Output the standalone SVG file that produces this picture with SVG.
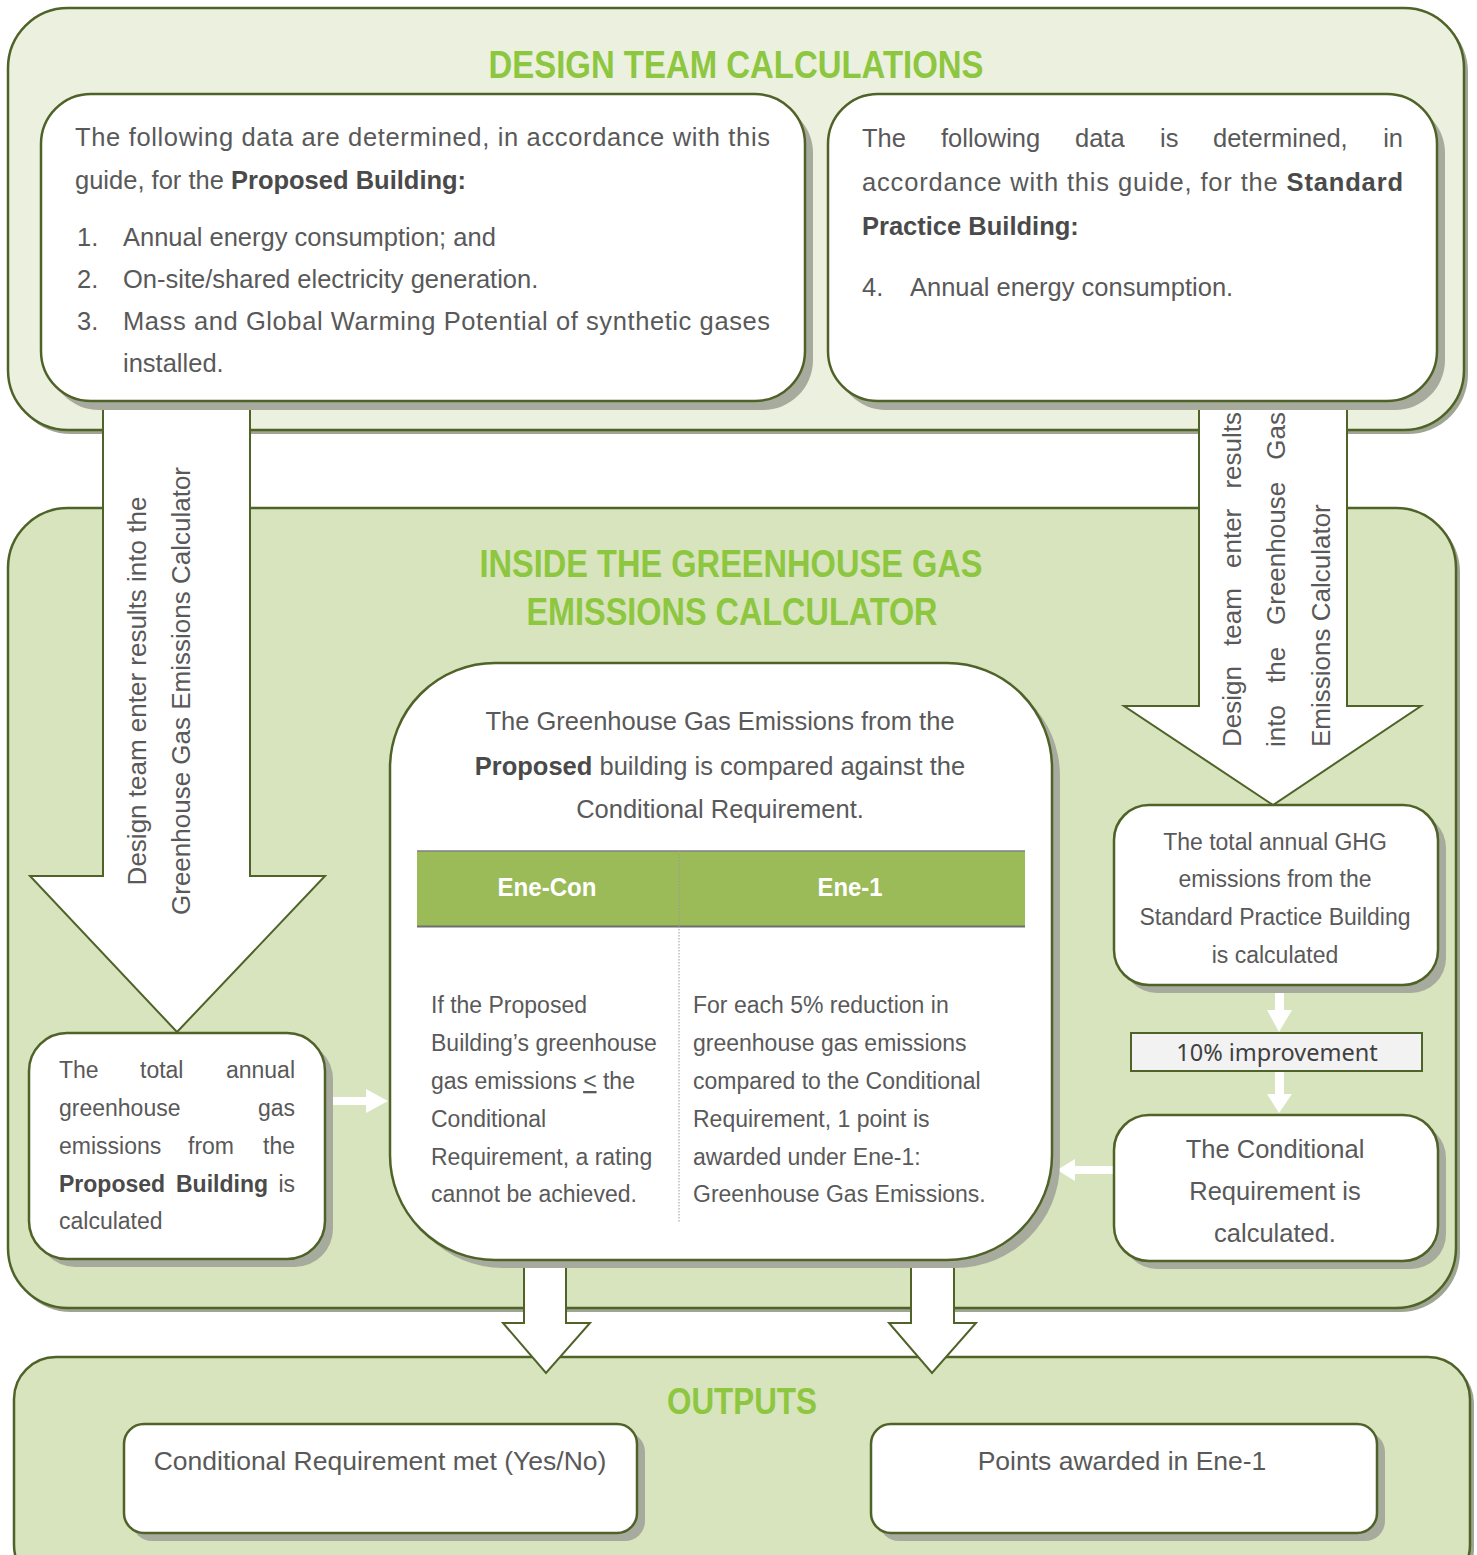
<svg xmlns="http://www.w3.org/2000/svg" width="1477" height="1555" viewBox="0 0 1477 1555">
<style>
.panel{stroke:#4f6228;stroke-width:2.5}
.pshadow{fill:#9fa593}
.box{fill:#ffffff;stroke:#4f6228;stroke-width:2.5}
.bshadow{fill:#a7ab9d}
.big{fill:#ffffff;stroke:#4f6228;stroke-width:2}
.wa{fill:#ffffff;stroke:none}
.t{font-family:"Liberation Sans",Arial,sans-serif;fill:#595959}
.b{font-weight:bold;fill:#4a4a4a}
.title{font-family:"Liberation Sans Narrow","Liberation Sans",Arial,sans-serif;font-weight:bold;fill:#8dc63f}
.s26{font-size:25.5px}
.s23{font-size:23px}
.rot{font-size:26px}
</style>

<!-- Panels -->
<g id="panel-design-team">
  <rect class="pshadow" x="11" y="12" width="1457" height="422" rx="60"/>
  <rect class="panel" x="8" y="8" width="1456" height="422" rx="60" fill="#ebf1de"/>
  <text class="title" x="736" y="78" font-size="38" text-anchor="middle" textLength="495" lengthAdjust="spacingAndGlyphs">DESIGN TEAM CALCULATIONS</text>
</g>
<g id="panel-calculator">
  <rect class="pshadow" x="11" y="512" width="1449" height="800" rx="60"/>
  <rect class="panel" x="8" y="508" width="1448" height="800" rx="60" fill="#d7e4bd"/>
  <text class="title" x="731" y="577" font-size="38" text-anchor="middle" textLength="503" lengthAdjust="spacingAndGlyphs">INSIDE THE GREENHOUSE GAS</text>
  <text class="title" x="732" y="625" font-size="38" text-anchor="middle" textLength="411" lengthAdjust="spacingAndGlyphs">EMISSIONS CALCULATOR</text>
</g>
<g id="panel-outputs">
  <rect class="pshadow" x="17" y="1361" width="1457" height="230" rx="42"/>
  <rect class="panel" x="14" y="1357" width="1456" height="230" rx="42" fill="#d7e4bd"/>
  <text class="title" x="742" y="1414" font-size="36" text-anchor="middle" textLength="150" lengthAdjust="spacingAndGlyphs">OUTPUTS</text>
</g>

<!-- Connectors -->
<g id="connectors">
  <polygon class="big" points="524,1258 566,1258 566,1323 590,1323 546,1373 503,1323 524,1323"/>
  <polygon class="big" points="911,1258 954,1258 954,1323 976,1323 932,1373 889,1323 911,1323"/>

  <polygon class="big" points="103,398 250,398 250,876 325,876 177,1032 30,876 103,876"/>
  <text class="t rot" transform="translate(146,691) rotate(-90)" text-anchor="middle">Design team enter results into the</text>
  <text class="t rot" transform="translate(190,691) rotate(-90)" text-anchor="middle">Greenhouse Gas Emissions Calculator</text>

  <polygon class="big" points="1199,398 1347,398 1347,706 1421,706 1273,805 1124,706 1199,706"/>
  <g class="t rot" transform="translate(1241,747) rotate(-90)">
    <text x="0" y="0">Design</text>
    <text x="101" y="0">team</text>
    <text x="179" y="0">enter</text>
    <text x="335" y="0" text-anchor="end">results</text>
  </g>
  <g class="t rot" transform="translate(1285,747) rotate(-90)">
    <text x="0" y="0">into</text>
    <text x="64" y="0">the</text>
    <text x="122" y="0">Greenhouse</text>
    <text x="335" y="0" text-anchor="end">Gas</text>
  </g>
  <text class="t rot" transform="translate(1330,747) rotate(-90)">Emissions Calculator</text>

  <!-- small white arrows -->
  <rect class="wa" x="325" y="1097" width="42" height="8"/>
  <polygon class="wa" points="366,1089 388,1101 366,1113"/>
  <rect class="wa" x="1073" y="1166" width="40" height="8"/>
  <polygon class="wa" points="1075,1159 1057,1170 1075,1181"/>
  <rect class="wa" x="1275" y="985" width="9" height="26"/>
  <polygon class="wa" points="1267,1010 1292,1010 1279,1032"/>
  <rect class="wa" x="1275" y="1071" width="9" height="24"/>
  <polygon class="wa" points="1267,1094 1292,1094 1279,1113"/>
</g>

<!-- Nodes -->
<g id="node-proposed-data">
  <rect class="bshadow" x="49" y="103" width="764" height="307" rx="50"/>
  <rect class="box" x="41" y="94" width="764" height="307" rx="50"/>
  <text class="t s26" x="75" y="146" textLength="695" lengthAdjust="spacing">The following data are determined, in accordance with this</text>
  <text class="t s26" x="75" y="189">guide, for the <tspan class="b">Proposed Building:</tspan></text>
  <text class="t s26" x="77" y="246">1.</text>
  <text class="t s26" x="123" y="246">Annual energy consumption; and</text>
  <text class="t s26" x="77" y="288">2.</text>
  <text class="t s26" x="123" y="288">On-site/shared electricity generation.</text>
  <text class="t s26" x="77" y="330">3.</text>
  <text class="t s26" x="123" y="330" textLength="647" lengthAdjust="spacing">Mass and Global Warming Potential of synthetic gases</text>
  <text class="t s26" x="123" y="372">installed.</text>
</g>

<g id="node-standard-data">
  <rect class="bshadow" x="836" y="103" width="609" height="307" rx="50"/>
  <rect class="box" x="828" y="94" width="609" height="307" rx="50"/>
  <g class="t s26">
    <text x="862" y="147">The</text>
    <text x="941" y="147">following</text>
    <text x="1075" y="147">data</text>
    <text x="1160" y="147">is</text>
    <text x="1213" y="147">determined,</text>
    <text x="1403" y="147" text-anchor="end">in</text>
  </g>
  <text class="t s26" x="862" y="191" textLength="541" lengthAdjust="spacing">accordance with this guide, for the <tspan class="b">Standard</tspan></text>
  <text class="t s26 b" x="862" y="235">Practice Building:</text>
  <text class="t s26" x="862" y="296">4.</text>
  <text class="t s26" x="910" y="296">Annual energy consumption.</text>
</g>

<g id="node-proposed-calc">
  <rect class="bshadow" x="37" y="1041" width="296" height="226" rx="38"/>
  <rect class="box" x="29" y="1033" width="296" height="226" rx="38"/>
  <g class="t s23">
    <text x="59" y="1078">The</text>
    <text x="140" y="1078">total</text>
    <text x="295" y="1078" text-anchor="end">annual</text>
    <text x="59" y="1116">greenhouse</text>
    <text x="295" y="1116" text-anchor="end">gas</text>
    <text x="59" y="1154">emissions</text>
    <text x="188" y="1154">from</text>
    <text x="295" y="1154" text-anchor="end">the</text>
    <text class="b" x="59" y="1192">Proposed</text>
    <text class="b" x="176" y="1192">Building</text>
    <text x="295" y="1192" text-anchor="end">is</text>
    <text x="59" y="1229">calculated</text>
  </g>
</g>

<g id="node-comparison">
  <rect class="bshadow" x="398" y="671" width="662" height="597" rx="105"/>
  <rect class="box" x="390" y="663" width="662" height="597" rx="105"/>
  <text class="t s26" x="720" y="730" text-anchor="middle">The Greenhouse Gas Emissions from the</text>
  <text class="t s26" x="720" y="775" text-anchor="middle"><tspan class="b">Proposed</tspan> building is compared against the</text>
  <text class="t s26" x="720" y="818" text-anchor="middle">Conditional Requirement.</text>
  <rect x="417" y="851" width="608" height="75" fill="#9bbb59"/>
  <line x1="417" y1="851" x2="1025" y2="851" stroke="#808080" stroke-width="1.5"/>
  <line x1="417" y1="926.5" x2="1025" y2="926.5" stroke="#6f6f6f" stroke-width="2"/>
  <line x1="679" y1="851" x2="679" y2="1222" stroke="#9a9a9a" stroke-width="1" stroke-dasharray="1.5,1.5"/>
  <text x="547" y="896" text-anchor="middle" font-family="Liberation Sans, Arial, sans-serif" font-size="26" font-weight="bold" fill="#ffffff" textLength="99" lengthAdjust="spacingAndGlyphs">Ene-Con</text>
  <text x="850" y="896" text-anchor="middle" font-family="Liberation Sans, Arial, sans-serif" font-size="26" font-weight="bold" fill="#ffffff" textLength="65" lengthAdjust="spacingAndGlyphs">Ene-1</text>
  <g class="t s23">
    <text x="431" y="1013">If the Proposed</text>
    <text x="431" y="1051">Building’s greenhouse</text>
    <text x="431" y="1089">gas emissions <tspan text-decoration="underline">&lt;</tspan> the</text>
    <text x="431" y="1127">Conditional</text>
    <text x="431" y="1165">Requirement, a rating</text>
    <text x="431" y="1202">cannot be achieved.</text>
    <text x="693" y="1013">For each 5% reduction in</text>
    <text x="693" y="1051">greenhouse gas emissions</text>
    <text x="693" y="1089">compared to the Conditional</text>
    <text x="693" y="1127">Requirement, 1 point is</text>
    <text x="693" y="1165">awarded under Ene-1:</text>
    <text x="693" y="1202">Greenhouse Gas Emissions.</text>
  </g>
</g>

<g id="node-standard-calc">
  <rect class="bshadow" x="1122" y="813" width="324" height="180" rx="35"/>
  <rect class="box" x="1114" y="805" width="324" height="180" rx="35"/>
  <g class="t s23" text-anchor="middle">
    <text x="1275" y="850">The total annual GHG</text>
    <text x="1275" y="887">emissions from the</text>
    <text x="1275" y="925">Standard Practice Building</text>
    <text x="1275" y="963">is calculated</text>
  </g>
</g>

<g id="node-improvement">
  <rect x="1131" y="1033" width="291" height="38" fill="#f2f2f2" stroke="#4f6228" stroke-width="2"/>
  <text x="1277" y="1061" text-anchor="middle" font-family="Noto Sans, Open Sans, sans-serif" font-size="23.5" fill="#404040">10% improvement</text>
</g>

<g id="node-conditional">
  <rect class="bshadow" x="1122" y="1123" width="324" height="146" rx="35"/>
  <rect class="box" x="1114" y="1115" width="324" height="146" rx="35"/>
  <g class="t s26" text-anchor="middle">
    <text x="1275" y="1158">The Conditional</text>
    <text x="1275" y="1200">Requirement is</text>
    <text x="1275" y="1242">calculated.</text>
  </g>
</g>

<g id="node-output-conditional">
  <rect class="bshadow" x="132" y="1432" width="513" height="109" rx="20"/>
  <rect class="box" x="124" y="1424" width="513" height="109" rx="20"/>
  <text class="t" x="380" y="1470" font-size="26.5" text-anchor="middle">Conditional Requirement met (Yes/No)</text>
</g>

<g id="node-output-points">
  <rect class="bshadow" x="879" y="1432" width="506" height="109" rx="20"/>
  <rect class="box" x="871" y="1424" width="506" height="109" rx="20"/>
  <text class="t" x="1122" y="1470" font-size="26.5" text-anchor="middle">Points awarded in Ene-1</text>
</g>
</svg>
